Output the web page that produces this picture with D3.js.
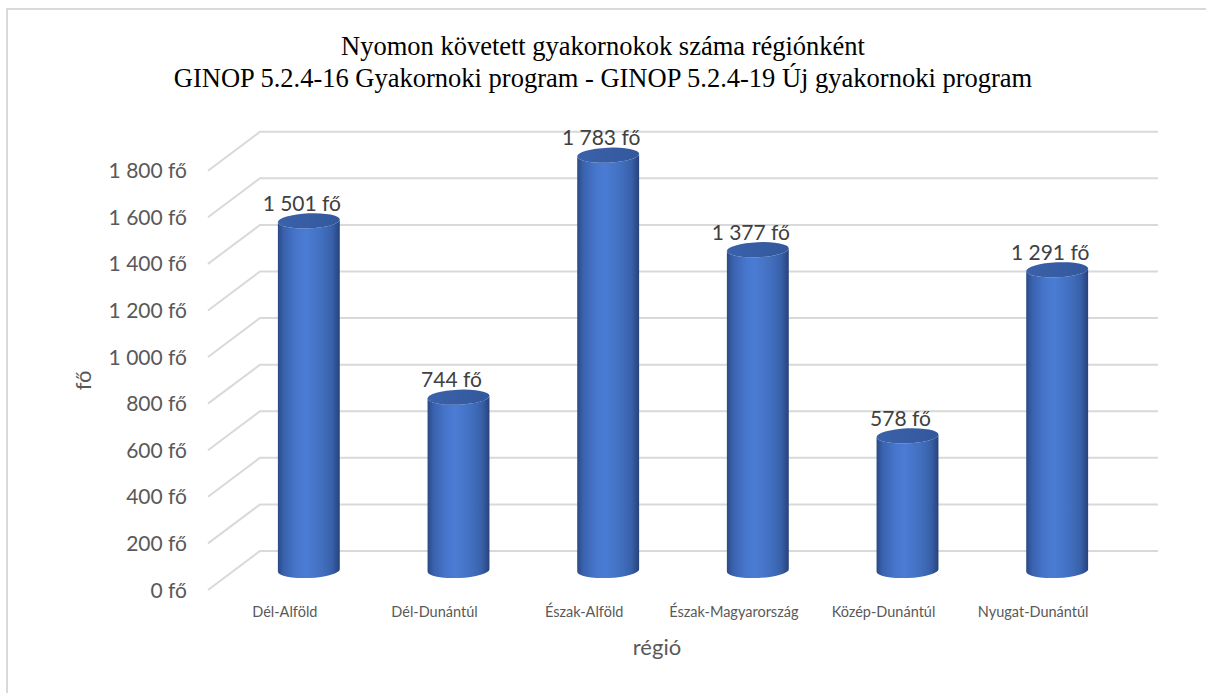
<!DOCTYPE html>
<html lang="hu">
<head>
<meta charset="utf-8">
<script src="https://cdn.jsdelivr.net/npm/d3@7/dist/d3.min.js"></script>
<style>
  html, body { margin: 0; padding: 0; background: #fff; }
  svg { display: block; }
</style>
</head>
<body>
<svg id="chart" width="1206" height="693"></svg>
<script>
// Régiók és a nyomon követett gyakornokok száma
const regions = ["Dél-Alföld", "Dél-Dunántúl", "Észak-Alföld", "Észak-Magyarország", "Közép-Dunántúl", "Nyugat-Dunántúl"];
const trainees = [1501, 744, 1783, 1377, 578, 1291];
const yTicks = [0, 200, 400, 600, 800, 1000, 1200, 1400, 1600, 1800];

const titleLines = [
  "Nyomon követett gyakornokok száma régiónként",
  "GINOP 5.2.4-16 Gyakornoki program - GINOP 5.2.4-19 Új gyakornoki program"
];
const yAxisTitle = "fő";
const xAxisTitle = "régió";

const svg = d3.select("#chart");
const W = 1206, H = 693;

// Hungarian number format: space as thousands separator
const hu = d3.formatLocale({ decimal: ",", thousands: " ", grouping: [3], currency: ["", " Ft"] });
const fmt = v => hu.format(",d")(v) + " fő";

// Front plane of the 3D plot and depth offset towards the back wall
const front = { left: 208, right: 1106, top: 170.7, bottom: 590 };
const depth = { dx: 52, dy: -39 };

const x = d3.scaleBand().domain(regions).range([front.left, front.right]);
const y = d3.scaleLinear().domain([0, 1800]).range([front.bottom, front.top]);

const labelFont = "Lato, 'Open Sans', sans-serif";
const textGrey = "#595959";

// Chart border
svg.append("rect")
  .attr("x", 7).attr("y", 9)
  .attr("width", W + 20).attr("height", H + 20)
  .attr("fill", "none").attr("stroke", "#d9d9d9").attr("stroke-width", 2);

// Title
svg.append("g").selectAll("text").data(titleLines).join("text")
  .attr("x", 603).attr("y", (d, i) => 55 + i * 32)
  .attr("text-anchor", "middle")
  .attr("font-family", "'Liberation Serif', 'Times New Roman', serif")
  .attr("font-size", 26.5)
  .attr("fill", "#000")
  .text(d => d);

// Gridlines: short diagonal on the side wall, then along the back wall
svg.append("g").selectAll("path").data(yTicks).join("path")
  .attr("d", v => {
    const yf = y(v);
    return `M${front.left},${yf} L${front.left + depth.dx},${yf + depth.dy} L${front.right + depth.dx},${yf + depth.dy}`;
  })
  .attr("fill", "none").attr("stroke", "#d9d9d9").attr("stroke-width", 2);

// Y tick labels
svg.append("g").selectAll("text").data(yTicks).join("text")
  .attr("x", 187).attr("y", v => y(v))
  .attr("dy", "0.36em")
  .attr("text-anchor", "end")
  .attr("font-family", labelFont).attr("font-size", 21)
  .attr("fill", textGrey)
  .text(v => fmt(v));

// Cylinder shading
const defs = svg.append("defs");
const body = defs.append("linearGradient").attr("id", "cylBody").attr("x1", 0).attr("x2", 1).attr("y1", 0).attr("y2", 0);
[[0, "#2a4a86"], [0.1, "#3a62ae"], [0.3, "#4676cc"], [0.45, "#4b7cd4"], [0.7, "#4270c0"], [0.88, "#3860a8"], [1, "#27427a"]]
  .forEach(([o, c]) => body.append("stop").attr("offset", o).attr("stop-color", c));
const cap = defs.append("linearGradient").attr("id", "cylTop").attr("x1", 0).attr("x2", 1).attr("y1", 0).attr("y2", 0);
[[0, "#3a61aa"], [1, "#33589c"]].forEach(([o, c]) => cap.append("stop").attr("offset", o).attr("stop-color", c));

const barW = x.bandwidth() * 0.414;
const rx = barW / 2, ry = 7.5, tilt = -2.5;
const tRad = tilt * Math.PI / 180;
const ex = rx * Math.cos(tRad), ey = rx * Math.sin(tRad);   // ends of the tilted major axis
const rows = regions.map((r, i) => ({ region: r, value: trainees[i] }));
const cx = d => x(d.region) + x.bandwidth() / 2 + depth.dx / 2;
const cyOf = v => y(v) + depth.dy / 2;

const bars = svg.append("g").selectAll("g").data(rows).join("g");

// Cylinder body: vertical sides, tilted elliptical base and front rim of the cap
bars.append("path")
  .attr("d", d => {
    const c = cx(d), yt = cyOf(d.value), yb = cyOf(0);
    return `M${c - ex},${yt - ey} L${c - ex},${yb - ey} ` +
      `A${rx},${ry} ${tilt} 0 0 ${c + ex},${yb + ey} ` +
      `L${c + ex},${yt + ey} A${rx},${ry} ${tilt} 0 1 ${c - ex},${yt - ey} Z`;
  })
  .attr("fill", "url(#cylBody)");

bars.append("ellipse")
  .attr("cx", d => cx(d)).attr("cy", d => cyOf(d.value))
  .attr("rx", rx).attr("ry", ry)
  .attr("transform", d => `rotate(${tilt},${cx(d)},${cyOf(d.value)})`)
  .attr("fill", "url(#cylTop)");

// Value labels
bars.append("text")
  .attr("x", d => cx(d) - 7)
  .attr("y", d => cyOf(d.value) - 10)
  .attr("text-anchor", "middle")
  .attr("font-family", labelFont).attr("font-size", 21)
  .attr("fill", "#404040")
  .text(d => fmt(d.value));

// Category labels on the front edge of the floor
svg.append("g").selectAll("text").data(regions).join("text")
  .attr("x", r => x(r) + x.bandwidth() / 2 + 2)
  .attr("y", 617)
  .attr("text-anchor", "middle")
  .attr("font-family", labelFont).attr("font-size", 14.5)
  .attr("fill", textGrey)
  .text(r => r);

// Axis titles
svg.append("text")
  .attr("transform", `translate(91,${(front.top + front.bottom) / 2}) rotate(-90)`)
  .attr("text-anchor", "middle")
  .attr("font-family", labelFont).attr("font-size", 22)
  .attr("fill", textGrey)
  .text(yAxisTitle);

svg.append("text")
  .attr("x", (front.left + front.right) / 2).attr("y", 655)
  .attr("text-anchor", "middle")
  .attr("font-family", labelFont).attr("font-size", 22)
  .attr("fill", textGrey)
  .text(xAxisTitle);
</script>
</body>
</html>
